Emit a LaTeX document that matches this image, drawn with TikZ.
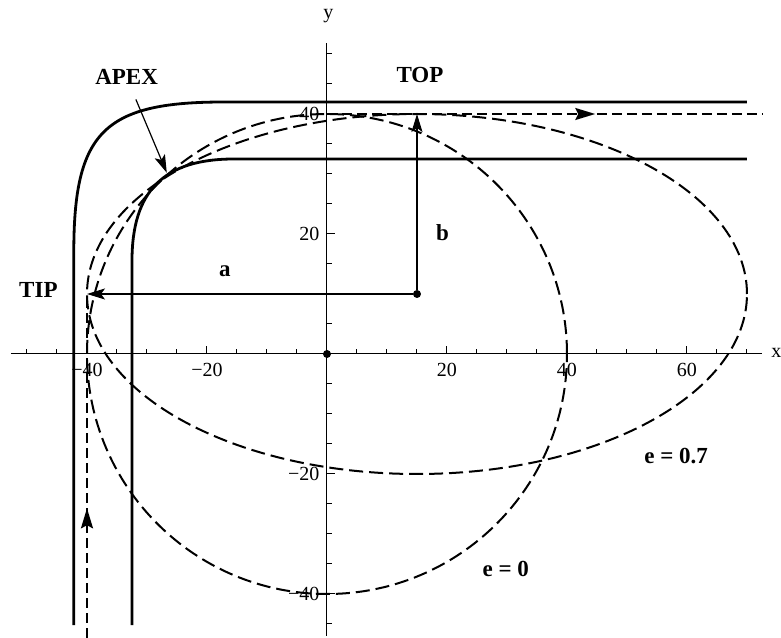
\documentclass[tikz,border=0pt]{standalone}
\usepackage{fontspec}
\setmainfont{Liberation Serif}
\usetikzlibrary{arrows.meta,decorations.markings}
\begin{document}
\begin{tikzpicture}[x=3pt, y=3pt]
  % Define line, dot and label styles
  \tikzstyle{axis} = [line width=0.5pt]
  \tikzstyle{wall} = [line width=1.4pt]
  \tikzstyle{orbit} = [line width=1pt, dash pattern=on 7pt off 3pt]
  \tikzstyle{track} = [line width=1pt, dash pattern=on 5pt off 2.5pt]
  \tikzstyle{pointer} = [line width=0.6pt,
  -{Stealth[length=9pt, width=5.5pt, inset=2pt]}]
  \tikzstyle{flowmark} = [postaction={decorate}, decoration={markings,
      mark=at position #1 with {\arrow{Stealth[length=10pt, width=6pt, inset=1.5pt]}}}]
  \tikzstyle{marker} = [circle, fill=black, inner sep=0pt, minimum size=4pt]
  \tikzstyle{bigtitle} = [font=\fontsize{11.5}{13}\selectfont\bfseries]
  \tikzstyle{ticklabel} = [font=\fontsize{10}{12}\selectfont, inner sep=0pt]

  \useasboundingbox (-54.5,-47.33) rectangle (75.67,59);

  % axes and ticks
  \draw[axis] (-52.7,0) -- (72.5,0);
  \draw[axis] (0,-47) -- (0,51.8);
  \foreach \t in {-50,-45,...,70}
    \draw[axis] (\t,0) -- (\t,0.8);
  \foreach \t in {-45,-40,...,50}
    \draw[axis] (0,\t) -- (0.8,\t);
  \foreach \t/\lab in {-40/−40, -20/−20, 20/20, 40/40, 60/60} {
    \draw[axis] (\t,0) -- (\t,1.35);
    \node[ticklabel] (xl\t) at (\t,-2.7) {\lab};
  }
  \foreach \t/\lab in {-40/−40, -20/−20, 20/20, 40/40} {
    \draw[axis] (0,\t) -- (1.35,\t);
    \node[ticklabel, anchor=east] (yl\t) at (-1.2,\t) {\lab};
  }
  \node[ticklabel] (xlabel) at (74.9,0.2) {x};
  \node[ticklabel] (ylabel) at (0.25,56.4) {y};

  % the two walls
  \draw[wall] (-42.2,-45.2) -- (-42.2,17)
    .. controls (-42.2,37) and (-37.2,42) .. (-17.2,42) -- (70,42);
  \draw[wall] (-32.5,-45.2) -- (-32.5,15.5)
    .. controls (-32.5,27.2) and (-27.2,32.5) .. (-15.5,32.5) -- (70,32.5);

  % orbits for e = 0 and e = 0.7
  \draw[orbit] (0,0) circle[radius=40];
  \draw[orbit] (15,10) ellipse[x radius=55, y radius=30];

  % points
  \node[marker] (origin) at (0,0) {};
  \node[marker] (focus) at (15,10) {};
  \coordinate (tip) at (-40,10);
  \coordinate (top) at (15,40);
  \coordinate (apex) at (-26.7,30.2);
  \coordinate (entry) at (-40,-47.33);
  \coordinate (crown) at (0,40);
  \coordinate (exit) at (72.7,40);

  % path in and out
  \draw[track, flowmark=0.377] (entry) -- (tip);
  \draw[track, flowmark=0.615] (crown) -- (exit);

  % labels
  \node[bigtitle] (apexlabel) at (-33.4,46.1) {APEX};
  \node[bigtitle] (toplabel) at (15.5,46.5) {TOP};
  \node[bigtitle] (tiplabel) at (-48.1,10.6) {TIP};
  \node[bigtitle] (alabel) at (-17,13.8) {a};
  \node[bigtitle] (blabel) at (19.25,20.2) {b};
  \node[bigtitle] (elabel) at (58.2,-17) {e = 0.7};
  \node[bigtitle] (clabel) at (29.8,-35.8) {e = 0};

  \draw[pointer] (focus) -- (tip);
  \draw[pointer] (focus) -- (top);
  \draw[pointer, shorten <=4pt] (apexlabel) -- (apex);
\end{tikzpicture}
\end{document}
